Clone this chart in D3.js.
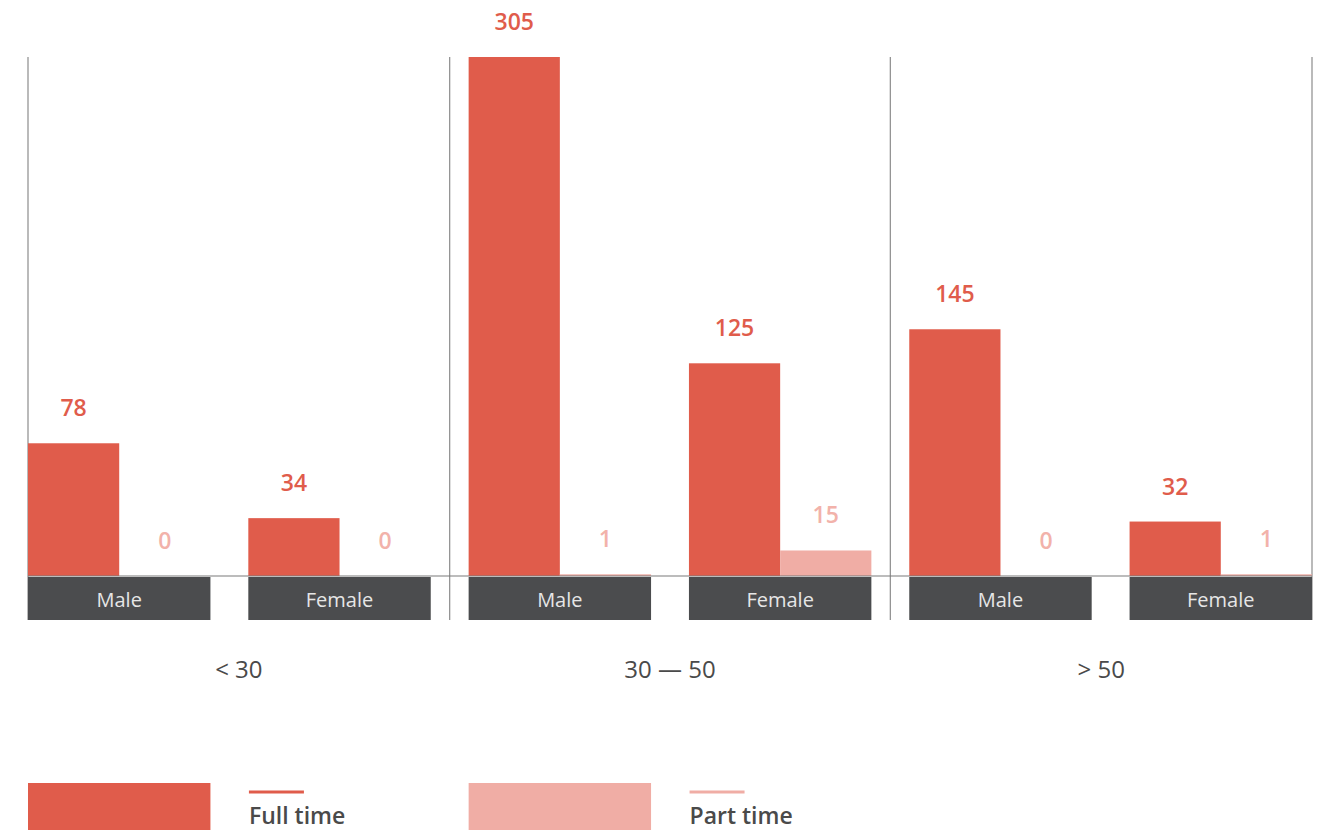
<!DOCTYPE html>
<html>
<head>
<meta charset="utf-8">
<script src="https://cdn.jsdelivr.net/npm/d3@7"></script>
<style>
  html, body { margin: 0; padding: 0; background: #fff; overflow: hidden; }
  svg { display: block; font-family: "Open Sans", "Noto Sans", sans-serif; }
</style>
</head>
<body>
<svg id="chart" width="1329" height="830"></svg>
<script>
// Employees by age group, gender and contract type
const ageGroups = ["< 30", "30 — 50", "> 50"];
const genders = ["Male", "Female"];
const fullTime = [78, 34, 305, 125, 145, 32];
const partTime = [0, 0, 1, 15, 0, 1];
const seriesNames = ["Full time", "Part time"];
const seriesColors = ["#e05c4b", "#f0ada5"];
const labelColors = ["#e05c4b", "#f2b2aa"];

const svg = d3.select("#chart");
const plotLeft = 28, plotRight = 1312, plotTop = 57, base = 576, boxH = 44;

// one cell per (age group, gender)
const cells = [];
ageGroups.forEach((g, gi) => genders.forEach((s, si) => {
  const i = gi * genders.length + si;
  cells.push({ key: g + "|" + s, group: g, gi, gender: s, full: fullTime[i], part: partTime[i] });
}));

const x = d3.scaleBand().domain(cells.map(d => d.key)).range([plotLeft, plotRight])
  .paddingInner(0.172).paddingOuter(0);
const sub = d3.scaleBand().domain(seriesNames).range([0, x.bandwidth()]);
const y = d3.scaleLinear().domain([0, d3.max(fullTime)]).range([base, plotTop]);

// group separators
const sepX = [plotLeft];
for (let gi = 1; gi < ageGroups.length; gi++) {
  const prev = cells[gi * genders.length - 1], next = cells[gi * genders.length];
  sepX.push((x(prev.key) + x.bandwidth() + x(next.key)) / 2);
}
sepX.push(plotRight);

svg.append("g").selectAll("line").data(sepX).join("line")
  .attr("x1", d => d).attr("x2", d => d)
  .attr("y1", plotTop).attr("y2", base + boxH)
  .attr("stroke", "#8c8c8c").attr("stroke-width", 1.2);

// bars
const barG = svg.append("g");
cells.forEach(c => {
  [c.full, c.part].forEach((v, k) => {
    const bx = x(c.key) + sub(seriesNames[k]);
    barG.append("rect")
      .attr("x", bx).attr("width", sub.bandwidth())
      .attr("y", y(v)).attr("height", base - y(v))
      .attr("fill", seriesColors[k]);
    barG.append("text")
      .attr("x", bx + sub.bandwidth() / 2).attr("y", y(v) - 27)
      .attr("text-anchor", "middle")
      .attr("font-size", 23).attr("font-weight", 600)
      .attr("fill", labelColors[k])
      .text(v);
  });
});

// baseline
svg.append("line").attr("x1", plotLeft).attr("x2", plotRight).attr("y1", base).attr("y2", base)
  .attr("stroke", "#7a7a7a").attr("stroke-width", 1.2);

// gender boxes
const boxG = svg.append("g").selectAll("g").data(cells).join("g")
  .attr("transform", d => `translate(${x(d.key)},${base + 1})`);
boxG.append("rect").attr("width", x.bandwidth()).attr("height", boxH - 1).attr("fill", "#4b4c4e");
boxG.append("text").attr("x", x.bandwidth() / 2).attr("y", boxH / 2 + 8)
  .attr("text-anchor", "middle").attr("font-size", 20).attr("fill", "#e6e6e6")
  .text(d => d.gender);

// age group labels
svg.append("g").selectAll("text").data(ageGroups).join("text")
  .attr("x", (d, i) => (sepX[i] + sepX[i + 1]) / 2).attr("y", 678)
  .attr("text-anchor", "middle").attr("font-size", 24).attr("fill", "#4a4a4a")
  .text(d => d);

// legend
const legX = [x(cells[0].key), x(cells[2].key)];
seriesNames.forEach((name, k) => {
  const lx = legX[k];
  svg.append("rect").attr("x", lx).attr("y", 783).attr("width", x.bandwidth()).attr("height", 60)
    .attr("fill", seriesColors[k]);
  const tx = lx + x.bandwidth() + 38.5;
  svg.append("rect").attr("x", tx).attr("y", 790.5).attr("width", 55).attr("height", 3)
    .attr("fill", seriesColors[k]);
  svg.append("text").attr("x", tx).attr("y", 824)
    .attr("font-size", 23).attr("font-weight", 600).attr("fill", "#4a4a4a")
    .text(name);
});
</script>
</body>
</html>
